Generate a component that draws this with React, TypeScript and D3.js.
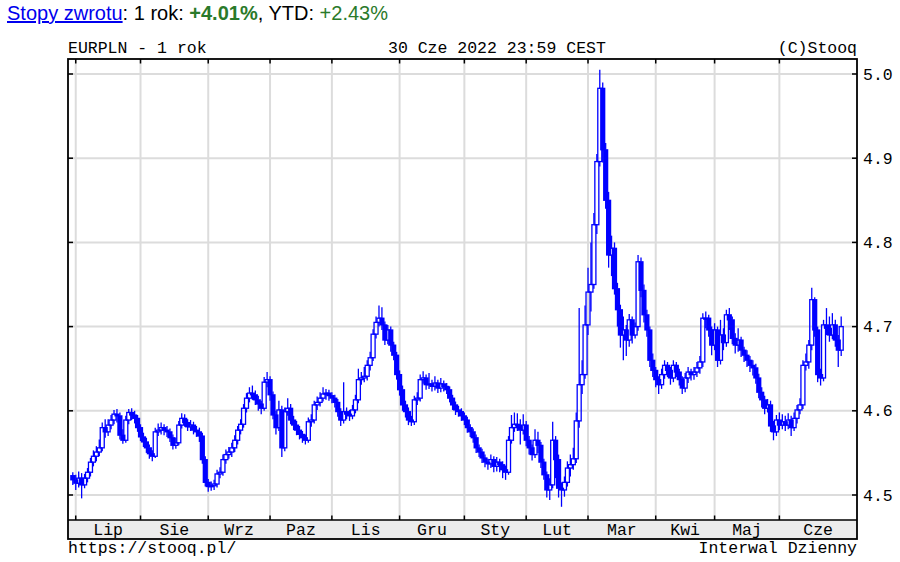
import React from 'react';
import * as d3 from 'd3';

// EURPLN daily candles, 30 Jun 2021 .. 30 Jun 2022 (trading-day index)
const open = [
  4.523,4.518,4.514,4.520,4.512,4.520,4.527,4.539,4.546,4.551,
  4.556,4.580,4.575,4.583,4.589,4.596,4.594,4.571,4.565,4.589,
  4.598,4.595,4.591,4.580,4.569,4.563,4.556,4.549,4.546,4.575,
  4.577,4.580,4.577,4.575,4.568,4.559,4.562,4.583,4.591,4.586,
  4.581,4.583,4.577,4.575,4.570,4.542,4.515,4.510,4.511,4.513,
  4.525,4.527,4.542,4.548,4.551,4.556,4.565,4.577,4.584,4.603,
  4.615,4.621,4.619,4.613,4.608,4.603,4.634,4.637,4.619,4.595,
  4.580,4.601,4.556,4.599,4.603,4.589,4.583,4.577,4.572,4.568,
  4.565,4.587,4.589,4.607,4.610,4.615,4.620,4.621,4.618,4.615,
  4.610,4.599,4.589,4.599,4.596,4.594,4.601,4.613,4.637,4.639,
  4.641,4.654,4.663,4.691,4.705,4.710,4.702,4.684,4.696,4.678,
  4.666,4.643,4.625,4.607,4.599,4.589,4.587,4.613,4.615,4.637,
  4.639,4.631,4.632,4.629,4.633,4.627,4.632,4.629,4.625,4.615,
  4.607,4.601,4.599,4.594,4.589,4.580,4.575,4.568,4.556,4.551,
  4.544,4.539,4.537,4.542,4.534,4.539,4.536,4.530,4.527,4.565,
  4.580,4.584,4.582,4.577,4.583,4.565,4.556,4.548,4.565,4.559,
  4.539,4.524,4.506,4.512,4.565,4.542,4.508,4.506,4.515,4.532,
  4.536,4.543,4.588,4.631,4.643,4.702,4.741,4.750,4.821,4.896,
  4.983,4.910,4.850,4.785,4.793,4.745,4.720,4.690,4.696,4.684,
  4.708,4.690,4.700,4.777,4.743,4.714,4.696,4.660,4.648,4.637,
  4.631,4.643,4.654,4.648,4.639,4.654,4.646,4.637,4.627,4.639,
  4.646,4.643,4.646,4.651,4.658,4.710,4.710,4.696,4.678,4.696,
  4.660,4.690,4.681,4.714,4.708,4.686,4.678,4.684,4.672,4.666,
  4.660,4.654,4.651,4.639,4.622,4.613,4.603,4.607,4.582,4.575,
  4.589,4.583,4.587,4.583,4.589,4.580,4.591,4.601,4.607,4.654,
  4.658,4.678,4.732,4.696,4.643,4.639,4.702,4.698,4.690,4.702,
  4.684,4.672,
];

const high = [
  4.527,4.524,4.528,4.526,4.525,4.532,4.544,4.553,4.558,4.566,
  4.586,4.590,4.590,4.595,4.601,4.602,4.598,4.578,4.594,4.602,
  4.603,4.600,4.595,4.584,4.574,4.568,4.560,4.553,4.580,4.585,
  4.586,4.584,4.582,4.579,4.572,4.568,4.588,4.597,4.596,4.590,
  4.589,4.587,4.582,4.580,4.574,4.546,4.519,4.516,4.518,4.530,
  4.533,4.548,4.554,4.557,4.562,4.571,4.582,4.590,4.608,4.621,
  4.628,4.630,4.624,4.618,4.612,4.640,4.646,4.641,4.623,4.600,
  4.612,4.606,4.604,4.615,4.608,4.594,4.588,4.582,4.576,4.572,
  4.592,4.596,4.612,4.617,4.622,4.628,4.626,4.625,4.622,4.619,
  4.614,4.603,4.634,4.604,4.601,4.607,4.619,4.650,4.646,4.652,
  4.660,4.670,4.697,4.712,4.725,4.723,4.706,4.702,4.700,4.682,
  4.670,4.648,4.630,4.612,4.604,4.594,4.618,4.622,4.643,4.647,
  4.643,4.645,4.637,4.641,4.637,4.639,4.636,4.633,4.629,4.619,
  4.611,4.606,4.603,4.598,4.593,4.584,4.579,4.572,4.560,4.555,
  4.548,4.543,4.548,4.546,4.545,4.543,4.540,4.535,4.570,4.595,
  4.598,4.597,4.590,4.596,4.588,4.570,4.560,4.578,4.575,4.563,
  4.543,4.528,4.520,4.587,4.570,4.548,4.515,4.522,4.540,4.548,
  4.556,4.598,4.722,4.660,4.725,4.770,4.800,4.835,4.905,5.005,
  4.990,4.918,4.860,4.808,4.800,4.752,4.726,4.712,4.702,4.715,
  4.712,4.705,4.785,4.782,4.750,4.720,4.700,4.668,4.652,4.641,
  4.650,4.660,4.658,4.652,4.660,4.658,4.650,4.641,4.645,4.652,
  4.650,4.652,4.658,4.665,4.716,4.718,4.714,4.700,4.704,4.700,
  4.708,4.698,4.720,4.722,4.712,4.692,4.698,4.688,4.676,4.672,
  4.665,4.660,4.656,4.644,4.628,4.618,4.614,4.612,4.588,4.595,
  4.598,4.596,4.594,4.597,4.594,4.598,4.607,4.615,4.660,4.668,
  4.684,4.746,4.735,4.700,4.650,4.708,4.722,4.712,4.716,4.708,
  4.690,4.712,
];

const low = [
  4.512,4.506,4.509,4.496,4.508,4.515,4.522,4.534,4.540,4.546,
  4.552,4.568,4.570,4.578,4.584,4.586,4.566,4.561,4.562,4.584,
  4.589,4.585,4.575,4.564,4.557,4.550,4.543,4.540,4.544,4.570,
  4.572,4.571,4.569,4.563,4.554,4.555,4.559,4.579,4.581,4.576,
  4.576,4.572,4.569,4.563,4.537,4.510,4.504,4.505,4.506,4.509,
  4.520,4.523,4.537,4.543,4.545,4.551,4.560,4.572,4.580,4.598,
  4.610,4.613,4.607,4.600,4.596,4.600,4.628,4.612,4.590,4.572,
  4.576,4.545,4.552,4.594,4.584,4.577,4.571,4.566,4.562,4.560,
  4.562,4.581,4.585,4.601,4.605,4.611,4.613,4.612,4.609,4.604,
  4.593,4.582,4.585,4.590,4.588,4.590,4.597,4.609,4.631,4.634,
  4.636,4.648,4.659,4.686,4.700,4.696,4.678,4.679,4.670,4.660,
  4.637,4.618,4.600,4.592,4.583,4.582,4.583,4.607,4.611,4.632,
  4.625,4.626,4.623,4.624,4.621,4.622,4.623,4.620,4.610,4.601,
  4.595,4.593,4.588,4.583,4.574,4.569,4.562,4.550,4.545,4.538,
  4.533,4.530,4.532,4.527,4.528,4.527,4.520,4.518,4.524,4.561,
  4.575,4.576,4.560,4.572,4.558,4.548,4.541,4.544,4.550,4.532,
  4.518,4.497,4.494,4.508,4.520,4.497,4.486,4.498,4.510,4.522,
  4.530,4.538,4.580,4.620,4.638,4.690,4.718,4.745,4.810,4.890,
  4.895,4.840,4.770,4.760,4.738,4.700,4.675,4.660,4.665,4.676,
  4.680,4.686,4.695,4.735,4.705,4.688,4.652,4.640,4.628,4.620,
  4.626,4.638,4.640,4.631,4.634,4.640,4.630,4.620,4.622,4.633,
  4.636,4.637,4.640,4.644,4.652,4.698,4.688,4.666,4.672,4.652,
  4.655,4.672,4.676,4.696,4.679,4.668,4.670,4.664,4.658,4.652,
  4.646,4.642,4.632,4.615,4.604,4.596,4.598,4.575,4.565,4.570,
  4.577,4.578,4.576,4.578,4.570,4.576,4.585,4.596,4.602,4.648,
  4.650,4.672,4.688,4.634,4.630,4.635,4.690,4.682,4.685,4.676,
  4.652,4.665,
];

const close = [
  4.518,4.514,4.520,4.512,4.520,4.527,4.539,4.546,4.551,4.556,
  4.580,4.575,4.583,4.589,4.596,4.594,4.571,4.565,4.589,4.598,
  4.595,4.591,4.580,4.569,4.563,4.556,4.549,4.546,4.575,4.577,
  4.580,4.577,4.575,4.568,4.559,4.562,4.583,4.591,4.586,4.581,
  4.583,4.577,4.575,4.570,4.542,4.515,4.510,4.511,4.513,4.525,
  4.527,4.542,4.548,4.551,4.556,4.565,4.577,4.584,4.603,4.615,
  4.621,4.619,4.613,4.608,4.603,4.634,4.637,4.619,4.595,4.580,
  4.601,4.556,4.599,4.603,4.589,4.583,4.577,4.572,4.568,4.565,
  4.587,4.589,4.607,4.610,4.615,4.620,4.621,4.618,4.615,4.610,
  4.599,4.589,4.599,4.596,4.594,4.601,4.613,4.637,4.639,4.641,
  4.654,4.663,4.691,4.705,4.710,4.702,4.684,4.696,4.678,4.666,
  4.643,4.625,4.607,4.599,4.589,4.587,4.613,4.615,4.637,4.639,
  4.631,4.632,4.629,4.633,4.627,4.632,4.629,4.625,4.615,4.607,
  4.601,4.599,4.594,4.589,4.580,4.575,4.568,4.556,4.551,4.544,
  4.539,4.537,4.542,4.534,4.539,4.536,4.530,4.527,4.565,4.580,
  4.584,4.582,4.577,4.583,4.565,4.556,4.548,4.565,4.559,4.539,
  4.524,4.506,4.512,4.565,4.542,4.508,4.506,4.515,4.532,4.536,
  4.543,4.588,4.631,4.643,4.702,4.741,4.750,4.821,4.896,4.983,
  4.910,4.850,4.785,4.793,4.745,4.720,4.690,4.696,4.684,4.708,
  4.690,4.700,4.777,4.743,4.714,4.696,4.660,4.648,4.637,4.631,
  4.643,4.654,4.648,4.639,4.654,4.646,4.637,4.627,4.639,4.646,
  4.643,4.646,4.651,4.658,4.710,4.710,4.696,4.678,4.696,4.660,
  4.690,4.681,4.714,4.708,4.686,4.678,4.684,4.672,4.666,4.660,
  4.654,4.651,4.639,4.622,4.613,4.603,4.607,4.582,4.575,4.589,
  4.583,4.587,4.583,4.589,4.580,4.591,4.601,4.607,4.654,4.658,
  4.678,4.732,4.696,4.643,4.639,4.702,4.698,4.690,4.702,4.684,
  4.672,4.700,
];

const monthLabels = ['Lip', 'Sie', 'Wrz', 'Paz', 'Lis', 'Gru', 'Sty', 'Lut', 'Mar', 'Kwi', 'Maj', 'Cze'];
const monthStart = [1, 23, 46, 67, 88, 111, 133, 154, 175, 198, 218, 240];
const yTicks = [4.5, 4.6, 4.7, 4.8, 4.9, 5.0];

export default function App() {
  const W = 900, H = 562;
  const L = 68, R = 857, T = 59, PB = 520, B = 539;
  const x = d3.scaleLinear().domain([0, close.length - 1]).range([72.8, 841.2]);
  const y = d3.scaleLinear().domain([4.5, 5.0]).range([495, 74]);
  const mono = "'Liberation Mono', 'DejaVu Sans Mono', monospace";
  const sans = "'Liberation Sans', Arial, sans-serif";
  const blue = '#0000ff';
  const grid = '#dcdcdc';
  const bw = 4;

  const candles = close.map((c, i) => {
    const o = open[i];
    const cx = x(i);
    const yTop = y(Math.max(o, c));
    const yBot = y(Math.min(o, c));
    const up = c >= o;
    const h = Math.max(1, yBot - yTop);
    return (
      <g key={i}>
        <line x1={cx} x2={cx} y1={y(high[i])} y2={yTop} stroke={blue} strokeWidth={1.3} />
        <line x1={cx} x2={cx} y1={yBot} y2={y(low[i])} stroke={blue} strokeWidth={1.3} />
        {up ? (
          <rect x={cx - bw / 2} y={yTop} width={bw} height={h} fill="none" stroke={blue} strokeWidth={1.3} />
        ) : (
          <rect x={cx - bw / 2 - 0.6} y={yTop - 0.6} width={bw + 1.2} height={h + 1.2} fill={blue} />
        )}
      </g>
    );
  });

  const bounds = monthStart.map((m) => x(m));

  return (
    <svg width={W} height={H} style={{ position: 'absolute', left: 0, top: 0, background: '#fff' }}>
      <rect x={0} y={0} width={W} height={H} fill="#fff" />
      {/* header */}
      <text x={7} y={20} fontFamily={sans} fontSize={20} fill="#000">
        <tspan fill="#0000ee" textDecoration="underline" style={{ textDecoration: 'underline' }}>Stopy zwrotu</tspan>
        <tspan>: 1 rok: </tspan>
        <tspan fill="#2a7a2a" fontWeight="bold">+4.01%</tspan>
        <tspan>, YTD: </tspan>
        <tspan fill="#2a7a2a">+2.43%</tspan>
      </text>
      <text x={L} y={53} fontFamily={mono} fontSize={16.5} fill="#000">EURPLN - 1 rok</text>
      <text x={388} y={53} fontFamily={mono} fontSize={16.5} fill="#000">30 Cze 2022 23:59 CEST</text>
      <text x={R} y={53} fontFamily={mono} fontSize={16.5} fill="#000" textAnchor="end">(C)Stooq</text>

      {/* grid */}
      {yTicks.map((t) => (
        <line key={'gy' + t} x1={L} x2={R} y1={y(t)} y2={y(t)} stroke={grid} strokeWidth={2} />
      ))}
      {bounds.map((bx, k) => (
        <line key={'gx' + k} x1={bx} x2={bx} y1={T} y2={PB} stroke={grid} strokeWidth={2} />
      ))}

      {/* candles */}
      <defs>
        <clipPath id="plotclip">
          <rect x={L} y={T} width={R - L} height={PB - T} />
        </clipPath>
      </defs>
      <g clipPath="url(#plotclip)">{candles}</g>

      {/* axis band */}
      <rect x={L} y={PB} width={R - L} height={B - PB} fill="#ececec" />
      {/* ticks */}
      {bounds.map((bx, k) => (
        <g key={'tk' + k}>
          <line x1={bx} x2={bx} y1={PB - 4.5} y2={PB} stroke="#000" strokeWidth={1.5} />
          <line x1={bx} x2={bx} y1={T} y2={T + 4.5} stroke="#000" strokeWidth={1.5} />
        </g>
      ))}
      {yTicks.map((t) => (
        <g key={'ty' + t}>
          <line x1={L} x2={L + 5} y1={y(t)} y2={y(t)} stroke="#000" strokeWidth={1.5} />
          <line x1={R - 5} x2={R} y1={y(t)} y2={y(t)} stroke="#000" strokeWidth={1.5} />
          <text x={863} y={y(t) + 5.5} fontFamily={mono} fontSize={16.5} fill="#000">{t.toFixed(1)}</text>
        </g>
      ))}
      {monthLabels.map((lab, k) => {
        const a = bounds[k];
        const b = k + 1 < bounds.length ? bounds[k + 1] : R;
        return (
          <text key={'ml' + k} x={(a + b) / 2} y={535} fontFamily={mono} fontSize={16.5} fill="#000" textAnchor="middle">{lab}</text>
        );
      })}
      {/* frame */}
      <line x1={L} x2={R} y1={PB} y2={PB} stroke="#000" strokeWidth={1.5} />
      <rect x={L} y={T} width={R - L} height={B - T} fill="none" stroke="#000" strokeWidth={1.8} />

      {/* footer */}
      <text x={L} y={553} fontFamily={mono} fontSize={16.5} fill="#000">https://stooq.pl/</text>
      <text x={R} y={553} fontFamily={mono} fontSize={16.5} fill="#000" textAnchor="end">Interwal Dzienny</text>
    </svg>
  );
}
